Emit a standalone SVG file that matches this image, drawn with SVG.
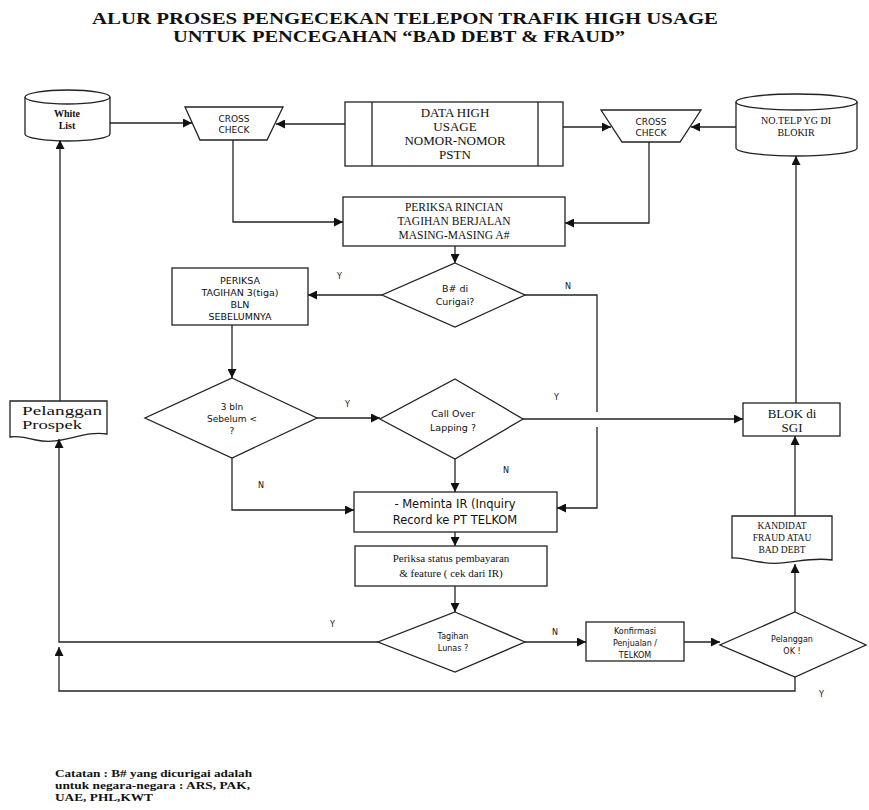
<svg xmlns="http://www.w3.org/2000/svg" width="869" height="810" viewBox="0 0 869 810">
<style>
.s{fill:#fff;stroke:#222;stroke-width:1.3}
.c{fill:none;stroke:#222;stroke-width:1.3}
.t{font-family:"Liberation Serif",serif;fill:#111;text-anchor:middle}
.ts{font-family:"Liberation Serif",serif;fill:#111;text-anchor:start}
.a{font-family:"DejaVu Sans",sans-serif;fill:#111;text-anchor:middle}
.l{font-family:"DejaVu Sans",sans-serif;fill:#111;font-size:8px}
</style>
<defs>
<marker id="ar" viewBox="0 0 10 10" refX="10" refY="5" markerWidth="9" markerHeight="9" markerUnits="userSpaceOnUse" orient="auto">
<path d="M0,0 L10,5 L0,10 Z" fill="#111"/>
</marker>
</defs>
<rect width="869" height="810" fill="#fff"/>
<g id="title">
<text x="405" y="24" class="t" font-weight="bold" font-size="16" textLength="626" lengthAdjust="spacingAndGlyphs">ALUR PROSES PENGECEKAN TELEPON TRAFIK HIGH USAGE</text>
<text x="399" y="42" class="t" font-weight="bold" font-size="16" textLength="452" lengthAdjust="spacingAndGlyphs">UNTUK PENCEGAHAN “BAD DEBT &amp; FRAUD”</text>
</g>
<g id="white-list">
<path class="s" d="M25,97 A42.5,7 0 0 1 110,97 L110,134 A42.5,7 0 0 1 25,134 Z"/>
<path class="c" d="M25,97 A42.5,7 0 0 0 110,97"/>
<text x="67" y="117" class="t" font-weight="bold" font-size="10">White</text>
<text x="67" y="129" class="t" font-weight="bold" font-size="10">List</text>
</g>
<g id="cross-check-1">
<path class="s" d="M185,107 H283 L267,140 H200 Z"/>
<text x="234" y="122" class="a" font-size="9">CROSS</text>
<text x="234" y="133" class="a" font-size="9">CHECK</text>
</g>
<g id="data-high-usage">
<rect class="s" x="345" y="102" width="218" height="64"/>
<line class="c" x1="372" y1="102" x2="372" y2="166"/>
<line class="c" x1="538" y1="102" x2="538" y2="166"/>
<text x="455" y="117" class="t" font-size="13">DATA HIGH</text>
<text x="455" y="131" class="t" font-size="13">USAGE</text>
<text x="455" y="145" class="t" font-size="13">NOMOR-NOMOR</text>
<text x="455" y="159" class="t" font-size="13">PSTN</text>
</g>
<g id="cross-check-2">
<path class="s" d="M601,110 H701 L680,142 H622 Z"/>
<text x="651" y="125" class="a" font-size="9">CROSS</text>
<text x="651" y="136" class="a" font-size="9">CHECK</text>
</g>
<g id="no-telp-blokir">
<path class="s" d="M736,102 A60.5,8 0 0 1 857,102 L857,148 A60.5,8 0 0 1 736,148 Z"/>
<path class="c" d="M736,102 A60.5,8 0 0 0 857,102"/>
<text x="796" y="124" class="t" font-size="10">NO.TELP YG DI</text>
<text x="796" y="136" class="t" font-size="10">BLOKIR</text>
</g>
<g id="periksa-rincian">
<rect class="s" x="343" y="197" width="222" height="49"/>
<text x="454" y="211" class="t" font-size="11.5">PERIKSA RINCIAN</text>
<text x="454" y="225" class="t" font-size="11.5">TAGIHAN BERJALAN</text>
<text x="454" y="239" class="t" font-size="11.5">MASING-MASING A#</text>
</g>
<g id="b-di-curigai">
<path class="s" d="M455,263 L525,295 L455,327 L382,295 Z"/>
<text x="455" y="292" class="a" font-size="9.5">B# di</text>
<text x="455" y="305" class="a" font-size="9.5">Curigai?</text>
</g>
<g id="periksa-tagihan">
<rect class="s" x="172" y="268" width="136" height="57"/>
<text x="240" y="284" class="a" font-size="9.5">PERIKSA</text>
<text x="240" y="296" class="a" font-size="9.5">TAGIHAN 3(tiga)</text>
<text x="240" y="308" class="a" font-size="9.5">BLN</text>
<text x="240" y="320" class="a" font-size="9.5">SEBELUMNYA</text>
</g>
<g id="tiga-bln">
<path class="s" d="M232,378 L317,418 L232,458 L145,418 Z"/>
<text x="232" y="410" class="a" font-size="9">3 bln</text>
<text x="232" y="422" class="a" font-size="9">Sebelum  &lt;</text>
<text x="232" y="434" class="a" font-size="9">?</text>
</g>
<g id="call-over-lapping">
<path class="s" d="M455,379 L523,419 L455,459 L380,419 Z"/>
<text x="453" y="417" class="a" font-size="9.5">Call Over</text>
<text x="453" y="431" class="a" font-size="9.5">Lapping ?</text>
</g>
<g id="blok-sgi">
<rect class="s" x="743" y="403" width="97" height="33"/>
<text x="792" y="418" class="t" font-size="13">BLOK di</text>
<text x="792" y="432" class="t" font-size="13">SGI</text>
</g>
<g id="pelanggan-prospek">
<path class="s" d="M10,401 H107 V434 C82,430 62,446 36,440 C24,437 15,436 10,437 Z"/>
<text x="22" y="415" class="ts" font-size="12" textLength="80" lengthAdjust="spacingAndGlyphs">Pelanggan</text>
<text x="22" y="429" class="ts" font-size="12" textLength="60" lengthAdjust="spacingAndGlyphs">Prospek</text>
</g>
<g id="meminta-ir">
<rect class="s" x="354" y="492" width="203" height="40"/>
<text x="455" y="508" class="a" font-size="11.5">- Meminta IR (Inquiry</text>
<text x="455" y="524" class="a" font-size="11.5">Record ke PT TELKOM</text>
</g>
<g id="periksa-status">
<rect class="s" x="355" y="546" width="192" height="40"/>
<text x="451" y="562" class="t" font-size="11">Periksa  status pembayaran</text>
<text x="451" y="577" class="t" font-size="11">&amp; feature ( cek dari IR)</text>
</g>
<g id="kandidat">
<path class="s" d="M732,516 H832 V560 C806,556 786,567 760,562 C748,560 738,557 732,558 Z"/>
<text x="782" y="529" class="t" font-size="9.5">KANDIDAT</text>
<text x="782" y="541" class="t" font-size="9.5">FRAUD ATAU</text>
<text x="782" y="553" class="t" font-size="9.5">BAD DEBT</text>
</g>
<g id="tagihan-lunas">
<path class="s" d="M455,612 L525,642 L455,672 L378,642 Z"/>
<text x="453" y="639" class="a" font-size="8">Tagihan</text>
<text x="453" y="651" class="a" font-size="8">Lunas ?</text>
</g>
<g id="konfirmasi">
<rect class="s" x="586" y="622" width="98" height="39"/>
<text x="635" y="634" class="a" font-size="8">Konfirmasi</text>
<text x="635" y="646" class="a" font-size="8">Penjualan /</text>
<text x="635" y="658" class="a" font-size="8">TELKOM</text>
</g>
<g id="pelanggan-ok">
<path class="s" d="M795,612 L866,645 L795,677 L720,645 Z"/>
<text x="792" y="642" class="a" font-size="8">Pelanggan</text>
<text x="792" y="654" class="a" font-size="8">OK !</text>
</g>
<g id="catatan">
<text x="55" y="777" class="ts" font-size="11" font-weight="bold" textLength="197" lengthAdjust="spacingAndGlyphs">Catatan : B# yang dicurigai adalah</text>
<text x="55" y="789" class="ts" font-size="11" font-weight="bold" textLength="195" lengthAdjust="spacingAndGlyphs">untuk negara-negara : ARS, PAK,</text>
<text x="55" y="801" class="ts" font-size="11" font-weight="bold" textLength="98" lengthAdjust="spacingAndGlyphs">UAE, PHL,KWT</text>
</g>
<g id="connectors">
<path class="c" d="M110,123 H192" marker-end="url(#ar)"/>
<path class="c" d="M345,124 H276" marker-end="url(#ar)"/>
<path class="c" d="M563,127 H611" marker-end="url(#ar)"/>
<path class="c" d="M736,127 H691" marker-end="url(#ar)"/>
<path class="c" d="M233,140 V222 H343" marker-end="url(#ar)"/>
<path class="c" d="M649,142 V223 H565" marker-end="url(#ar)"/>
<path class="c" d="M455,246 V263" marker-end="url(#ar)"/>
<path class="c" d="M382,295 H308" marker-end="url(#ar)"/>
<path class="c" d="M525,295 H597 V412"/>
<path class="c" d="M597,427 V508 H557" marker-end="url(#ar)"/>
<path class="c" d="M232,325 V378" marker-end="url(#ar)"/>
<path class="c" d="M317,418 H380" marker-end="url(#ar)"/>
<path class="c" d="M523,419 H743" marker-end="url(#ar)"/>
<path class="c" d="M455,459 V492" marker-end="url(#ar)"/>
<path class="c" d="M232,458 V510 H354" marker-end="url(#ar)"/>
<path class="c" d="M455,532 V546" marker-end="url(#ar)"/>
<path class="c" d="M455,586 V612" marker-end="url(#ar)"/>
<path class="c" d="M525,642 H586" marker-end="url(#ar)"/>
<path class="c" d="M684,642 H720" marker-end="url(#ar)"/>
<path class="c" d="M795,612 V564" marker-end="url(#ar)"/>
<path class="c" d="M795,516 V436" marker-end="url(#ar)"/>
<path class="c" d="M796,403 V156" marker-end="url(#ar)"/>
<path class="c" d="M378,642 H59 V439" marker-end="url(#ar)"/>
<path class="c" d="M795,677 V691 H59 V647" marker-end="url(#ar)"/>
<path class="c" d="M60,401 V140" marker-end="url(#ar)"/>
<text x="337" y="279" class="l">Y</text>
<text x="565" y="289" class="l">N</text>
<text x="345" y="407" class="l">Y</text>
<text x="554" y="400" class="l">Y</text>
<text x="503" y="473" class="l">N</text>
<text x="258" y="488" class="l">N</text>
<text x="330" y="627" class="l">Y</text>
<text x="552" y="635" class="l">N</text>
<text x="819" y="697" class="l">Y</text>
</g>
</svg>
